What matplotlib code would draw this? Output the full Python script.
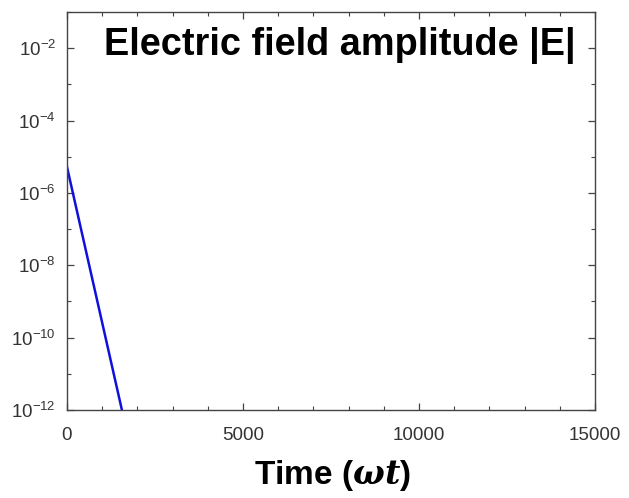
import matplotlib
matplotlib.use("Agg")
import matplotlib.pyplot as plt
from matplotlib.ticker import FixedLocator, FixedFormatter, NullFormatter

# Data
time_points = [0, 1560]
field_amplitude = [5.2e-6, 1e-12]

x_major = [0, 5000, 10000, 15000]
x_minor = [1000, 2000, 3000, 4000, 6000, 7000, 8000, 9000, 11000, 12000, 13000, 14000]
y_major = [1e-12, 1e-10, 1e-8, 1e-6, 1e-4, 1e-2]
y_minor = [1e-11, 1e-9, 1e-7, 1e-5, 1e-3, 1e-1]
y_labels = ["-12", "-10", "-8", "-6", "-4", "-2"]

plt.rcParams['font.family'] = ['Liberation Sans', 'DejaVu Sans']
plt.rcParams['mathtext.fontset'] = 'dejavuserif'

fig = plt.figure(figsize=(6.29, 4.98), dpi=100)
ax = fig.add_axes([67/629, 1 - 410/498, (595-67)/629, (410-12)/498])

ax.semilogy(time_points, field_amplitude, color='#1010dd', lw=1.8)
ax.set_xlim(0, 15000)
ax.set_ylim(1e-12, 1e-1)

ax.xaxis.set_major_locator(FixedLocator(x_major))
ax.xaxis.set_minor_locator(FixedLocator(x_minor))
ax.yaxis.set_major_locator(FixedLocator(y_major))
ax.yaxis.set_minor_locator(FixedLocator(y_minor))
ax.xaxis.set_major_formatter(FixedFormatter([str(v) for v in x_major]))
ax.yaxis.set_major_formatter(FixedFormatter([r"10$^{\mathregular{%s}}$" % s for s in y_labels]))
ax.xaxis.set_minor_formatter(NullFormatter())
ax.yaxis.set_minor_formatter(NullFormatter())

ax.tick_params(which='both', direction='in', top=True, right=True, color='#444444',
               labelcolor='#333333', labelsize=13.5)
ax.tick_params(which='major', length=5, width=0.9)
ax.tick_params(axis='x', which='major', pad=12)
ax.tick_params(axis='y', which='major', pad=8)
ax.tick_params(which='minor', length=3, width=0.8)
for s in ax.spines.values():
    s.set_color('#444444')
    s.set_linewidth(1.0)

ax.text(0.07, 0.916, "Electric field amplitude |E|", transform=ax.transAxes,
        fontsize=27.3, fontweight='bold', ha='left', va='center', color='black')

fig.text(332/629, 1 - 475/498, r"Time ($\boldsymbol{\omega t}$)", fontsize=24,
         fontweight='bold', ha='center', va='center', color='black')

fig.savefig("out.png", dpi=100)
